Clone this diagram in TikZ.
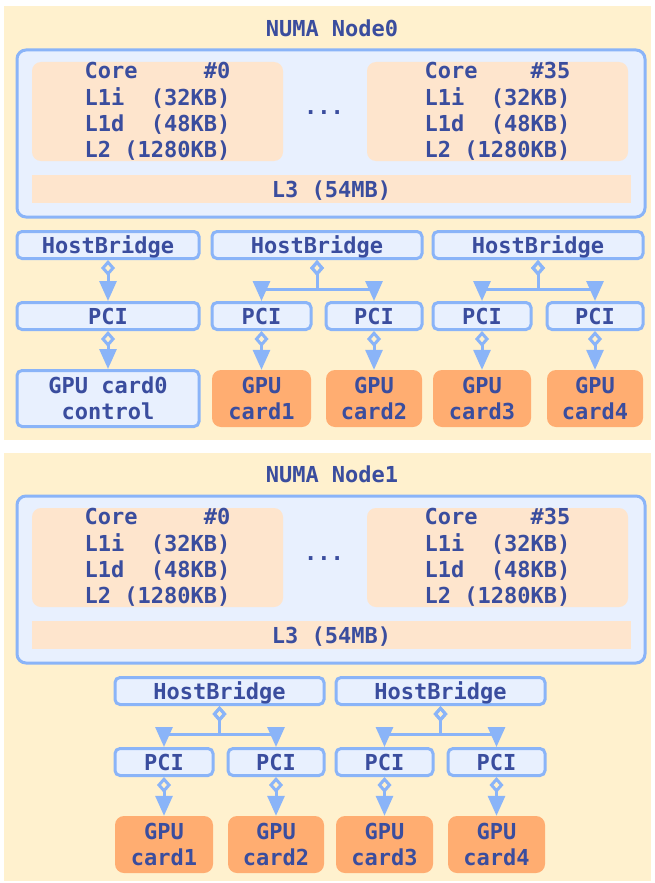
\documentclass[tikz,border=0pt]{standalone}
\usepackage{fontspec}
\setmonofont{DejaVu Sans Mono}
\usetikzlibrary{positioning}
\usetikzlibrary{arrows.meta}

\definecolor{panelbg}{HTML}{FFF1CE}
\definecolor{boxfill}{HTML}{E8F0FE}
\definecolor{boxline}{HTML}{8AB4F8}
\definecolor{corefill}{HTML}{FEE5CD}
\definecolor{gpufill}{HTML}{FFAD71}
\definecolor{txt}{HTML}{3A4D9E}

\begin{document}
\begin{tikzpicture}[x=1pt, y=-1pt,
        every node/.style={font=\ttfamily\bfseries\fontsize{22}{26.3}\selectfont, text=txt},
        panel/.style={fill=panelbg, minimum width=647pt, minimum height=434pt},
        socket/.style={draw=boxline, fill=boxfill, line width=3pt, rounded corners=9pt,
            minimum width=628pt, minimum height=167pt},
        core/.style={fill=corefill, rounded corners=9pt, minimum height=99pt, inner sep=0pt, align=left},
        cache/.style={fill=corefill, minimum width=599pt, minimum height=28pt, inner sep=0pt,
            text height=16pt, text depth=0pt},
        dev/.style={draw=boxline, fill=boxfill, line width=3pt, rounded corners=5pt,
            minimum height=27pt, inner sep=0pt, text height=16pt, text depth=0pt},
        gpu/.style={fill=gpufill, rounded corners=9pt, minimum height=57pt, inner sep=0pt, align=center},
        link/.style={draw=boxline, line width=3pt,
            {Diamond[open,length=16pt,width=14pt]}-{Triangle[length=20pt,width=17pt]}}
    ]
        \fill[white] (0,0) rectangle (654,883);
        \useasboundingbox (0,0) rectangle (654,883);

        % NUMA node 0
        \node[panel] (numaA) at (327.5,223) {};
        \node (titleA) at (332,28) {NUMA Node0};
        \node[socket] (socketA) at (331,133.5) {};
        \node[core, minimum width=251pt] (coreA0) at (157.5,111.5)
            {Core~~~~~\#0\\L1i~~(32KB)\\L1d~~(48KB)\\L2~(1280KB)};
        \node[core, minimum width=261pt] (coreA35) at (497.5,111.5)
            {Core~~~~\#35\\L1i~~(32KB)\\L1d~~(48KB)\\L2~(1280KB)};
        \node[anchor=base] (dotsA) at (324,114) {...};
        \node[cache] (cacheA) at (331.5,189) {L3 (54MB)};

        \node[dev, minimum width=182pt] (hbA1) at (108,245) {HostBridge};
        \node[dev, minimum width=210pt] (hbA2) at (317,245) {HostBridge};
        \node[dev, minimum width=210pt] (hbA3) at (538,245) {HostBridge};

        \node[dev, minimum width=182pt] (pciA1) at (108,316) {PCI};
        \node[dev, minimum width=99pt] (pciA2) at (261.5,316) {PCI};
        \node[dev, minimum width=96pt] (pciA3) at (374,316) {PCI};
        \node[dev, minimum width=98pt] (pciA4) at (482,316) {PCI};
        \node[dev, minimum width=96pt] (pciA5) at (595,316) {PCI};

        \node[dev, minimum width=182pt, minimum height=56pt, text height=, text depth=, align=center]
            (gpuA0) at (108,398.5) {GPU card0\\control};
        \node[gpu, minimum width=99pt] (gpuA1) at (261.5,398.5) {GPU\\card1};
        \node[gpu, minimum width=96pt] (gpuA2) at (374,398.5) {GPU\\card2};
        \node[gpu, minimum width=98pt] (gpuA3) at (482,398.5) {GPU\\card3};
        \node[gpu, minimum width=96pt] (gpuA4) at (595,398.5) {GPU\\card4};

        \draw[link] (hbA1) -- (pciA1);
        \draw[link] (hbA2.south) -- ++(0,29) -| (pciA2.north);
        \draw[link] (hbA2.south) -- ++(0,29) -| (pciA3.north);
        \draw[link] (hbA3.south) -- ++(0,29) -| (pciA4.north);
        \draw[link] (hbA3.south) -- ++(0,29) -| (pciA5.north);
        \draw[link] (pciA1) -- (gpuA0);
        \draw[link] (pciA2) -- (gpuA1);
        \draw[link] (pciA3) -- (gpuA2);
        \draw[link] (pciA4) -- (gpuA3);
        \draw[link] (pciA5) -- (gpuA4);

        % NUMA node 1
        \node[panel, minimum height=428pt] (numaB) at (327.5,667) {};
        \node (titleB) at (332,474) {NUMA Node1};
        \node[socket] (socketB) at (331,579.5) {};
        \node[core, minimum width=251pt] (coreB0) at (157.5,557.5)
            {Core~~~~~\#0\\L1i~~(32KB)\\L1d~~(48KB)\\L2~(1280KB)};
        \node[core, minimum width=261pt] (coreB35) at (497.5,557.5)
            {Core~~~~\#35\\L1i~~(32KB)\\L1d~~(48KB)\\L2~(1280KB)};
        \node[anchor=base] (dotsB) at (324,560) {...};
        \node[cache] (cacheB) at (331.5,635) {L3 (54MB)};

        \node[dev, minimum width=209pt] (hbB1) at (219.5,691) {HostBridge};
        \node[dev, minimum width=209pt] (hbB2) at (440.5,691) {HostBridge};

        \node[dev, minimum width=98pt] (pciB1) at (164,762) {PCI};
        \node[dev, minimum width=96pt] (pciB2) at (276,762) {PCI};
        \node[dev, minimum width=97pt] (pciB3) at (384.5,762) {PCI};
        \node[dev, minimum width=97pt] (pciB4) at (496.5,762) {PCI};

        \node[gpu, minimum width=98pt] (gpuB1) at (164,844.5) {GPU\\card1};
        \node[gpu, minimum width=96pt] (gpuB2) at (276,844.5) {GPU\\card2};
        \node[gpu, minimum width=97pt] (gpuB3) at (384.5,844.5) {GPU\\card3};
        \node[gpu, minimum width=97pt] (gpuB4) at (496.5,844.5) {GPU\\card4};

        \draw[link] (hbB1.south) -- ++(0,28) -| (pciB1.north);
        \draw[link] (hbB1.south) -- ++(0,28) -| (pciB2.north);
        \draw[link] (hbB2.south) -- ++(0,28) -| (pciB3.north);
        \draw[link] (hbB2.south) -- ++(0,28) -| (pciB4.north);
        \draw[link] (pciB1) -- (gpuB1);
        \draw[link] (pciB2) -- (gpuB2);
        \draw[link] (pciB3) -- (gpuB3);
        \draw[link] (pciB4) -- (gpuB4);
\end{tikzpicture}
\end{document}
